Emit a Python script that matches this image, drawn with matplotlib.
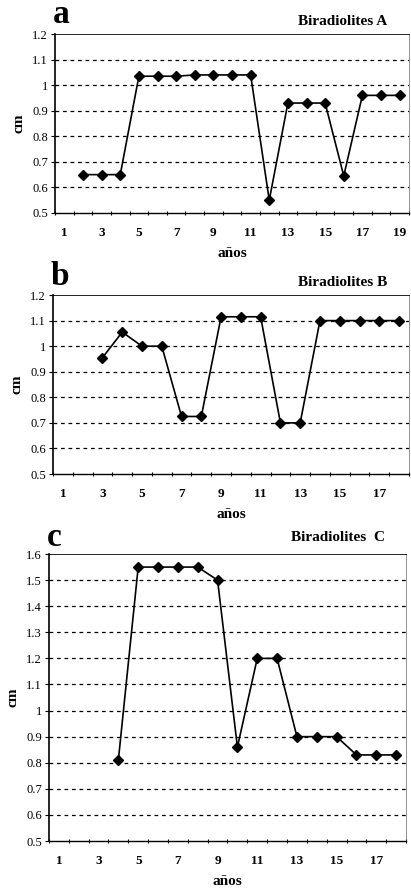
import matplotlib
matplotlib.use("Agg")
import matplotlib.pyplot as plt
import numpy as np

plt.rcParams['font.family'] = ['Liberation Serif', 'DejaVu Serif']

# datos (cm por año)
years_a = [2, 3, 4, 5, 6, 7, 8, 9, 10, 11, 12, 13, 14, 15, 16, 17, 18, 19]
cm_a = [0.65, 0.65, 0.65, 1.035, 1.035, 1.035, 1.04, 1.04, 1.04, 1.04,
        0.55, 0.93, 0.93, 0.93, 0.645, 0.96, 0.96, 0.96]

years_b = [3, 4, 5, 6, 7, 8, 9, 10, 11, 12, 13, 14, 15, 16, 17, 18]
cm_b = [0.955, 1.055, 1.0, 1.0, 0.725, 0.725, 1.115, 1.115, 1.115,
        0.70, 0.70, 1.10, 1.10, 1.10, 1.10, 1.10]

years_c = [4, 5, 6, 7, 8, 9, 10, 11, 12, 13, 14, 15, 16, 17, 18]
cm_c = [0.81, 1.55, 1.55, 1.55, 1.55, 1.50, 0.86, 1.20, 1.20,
        0.90, 0.90, 0.90, 0.83, 0.83, 0.83]

H = 893.0
panels = [
    ("a", "Biradiolites A", years_a, cm_a, 19, 1.2, [0.134, 0.7615, 0.861, 0.2004], 23),
    ("b", "Biradiolites B", years_b, cm_b, 18, 1.2, [0.129, 0.4692, 0.866, 0.2004], 285),
    ("c", "Biradiolites  C", years_c, cm_c, 18, 1.6, [0.119, 0.0582, 0.869, 0.3214], 546),
]

fig = plt.figure(figsize=(4.11, 8.93), dpi=100)

for letter, title, x, y, ncat, ytop, pos, base in panels:
    ax = fig.add_axes(pos)
    ax.plot(x, y, color='black', lw=1.2, marker='D', ms=5.5, zorder=3)
    ax.set_xlim(0.5, ncat + 0.5)
    ax.set_ylim(0.5, ytop)
    yt = np.round(np.arange(0.5, ytop + 0.001, 0.1), 1)
    ax.set_yticks(yt)
    ax.set_yticklabels([("%g" % v) for v in yt], fontsize=9)
    for v in yt[1:-1]:
        ax.axhline(v, color='black', lw=0.9, ls=(0, (3, 3)), zorder=1)
    xt = list(range(1, ncat + 1, 2))
    ax.set_xticks(xt)
    ax.set_xticklabels([str(v) for v in xt], fontsize=9.5, fontweight='bold')
    ax.set_xticks(np.arange(0.5, ncat + 1, 1), minor=True)
    ax.tick_params(axis='x', which='major', length=0, pad=10)
    ax.tick_params(axis='x', which='minor', length=3, direction='inout', width=0.8)
    ax.tick_params(axis='y', length=3, width=0.8, pad=2)
    ax.spines['left'].set_linewidth(1.2)
    ax.spines['bottom'].set_linewidth(1.0)
    ax.spines['top'].set_linewidth(0.6)
    ax.spines['right'].set_linewidth(0.5)
    ax.spines['right'].set_color('#666666')
    ax.set_ylabel("cm", fontsize=11, fontweight='bold', labelpad=5)
    ax.set_xlabel("años", fontsize=11, fontweight='bold', labelpad=6)
    fig.text(pos[0] - 0.005, 1 - base / H, letter, fontsize=24,
             fontweight='bold', ha='left', va='baseline')
    ax.text(0.94, 1.035, title, transform=ax.transAxes, fontsize=11,
            fontweight='bold', ha='right', va='bottom')

fig.savefig("out.png", dpi=100)
